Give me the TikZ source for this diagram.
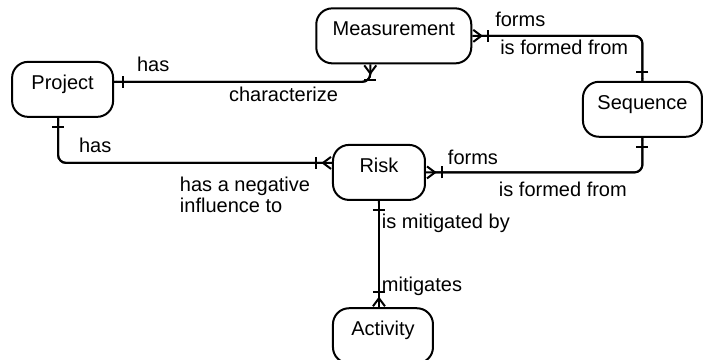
\documentclass[tikz,border=0pt]{standalone}
\usepackage{fontspec}
\setmainfont{Liberation Sans}
\usepackage{tikz}
\usetikzlibrary{arrows.meta, positioning}

\tikzset{
    onebar/.tip={Bar[width=6pt,sep=3.5pt] Butt Cap},
    crowfoot/.tip={Bar[width=6pt,sep=2pt] Straight Barb[reversed,length=4pt,width=6pt]}
}

\begin{document}
\begin{tikzpicture}[
    every node/.style={font=\fontsize{10}{10.5}\selectfont},
    entity/.style={rectangle, rounded corners=8pt, draw, line width=1pt, inner sep=0pt, text height=13.75pt, text depth=13.75pt},
    rel/.style={line width=1pt, rounded corners=4pt, postaction={draw, -}},
    lab/.style={inner sep=0pt, align=left}
]
\useasboundingbox (0,0) rectangle (12.354,-6.309);

% Entities
\node[entity, minimum width=50.5pt] (proj) at (1.10,-1.57) {Project};
\node[entity, minimum width=77.5pt] (meas) at (6.92,-0.63) {Measurement};
\node[entity, minimum width=59.5pt] (seq)  at (11.29,-1.92) {Sequence};
\node[entity, minimum width=46pt]   (risk) at (6.66,-3.03) {Risk};
\node[entity, minimum width=50pt]   (act)  at (6.73,-5.90) {Activity};

% Project -- Measurement
\draw[rel, {onebar}-{crowfoot}] ([yshift=3.75pt]proj.east) -| ([xshift=-11.75pt]meas.south)
    node[lab, at start, anchor=base west, xshift=11pt, yshift=5pt] (pmhas) {has}
    node[lab, at start, anchor=base west, xshift=57pt, yshift=-10pt] (pmchar) {characterize};

% Measurement -- Sequence
\draw[rel, {crowfoot}-{onebar}] (meas.east) -| (seq.north)
    node[lab, at start, anchor=base west, xshift=11pt, yshift=4.5pt] (msforms) {forms}
    node[lab, at start, anchor=base west, xshift=13.5pt, yshift=-9.5pt] (msfrom) {is formed from};

% Risk -- Sequence
\draw[rel, {crowfoot}-{onebar}] (risk.east) -| (seq.south)
    node[lab, at start, anchor=base west, xshift=10.5pt, yshift=4pt] (rsforms) {forms}
    node[lab, at start, anchor=base west, xshift=36pt, yshift=-12pt] (rsfrom) {is formed from};

% Project -- Risk
\draw[rel, {onebar}-{crowfoot}] ([xshift=-2.25pt]proj.south) |- ([yshift=4.75pt]risk.west)
    node[lab, at start, anchor=base west, xshift=10pt, yshift=-17.5pt] (prhas) {has}
    node[lab, at end, anchor=north west, xshift=-76.5pt, yshift=-6.5pt] (prneg) {has a negative\\influence to};

% Risk -- Activity
\draw[rel, {onebar}-{crowfoot}] (risk.south) -- (risk.south |- act.north)
    node[lab, at start, anchor=base west, xshift=1pt, yshift=-14pt] (rabym) {is mitigated by}
    node[lab, at end, anchor=base west, xshift=1pt, yshift=8pt] (ramit) {mitigates};
\end{tikzpicture}
\end{document}
